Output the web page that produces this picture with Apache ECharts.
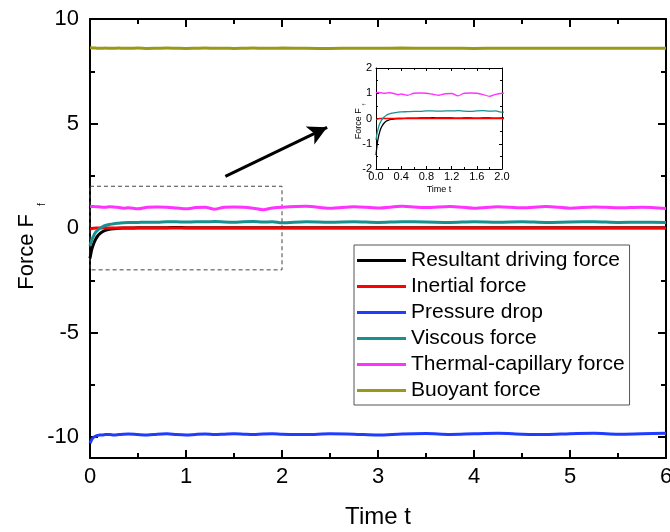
<!DOCTYPE html>
<html><head><meta charset="utf-8">
<script src="https://cdn.jsdelivr.net/npm/echarts@6/dist/echarts.min.js"></script>
<style>html,body{margin:0;padding:0;background:#fff}#c{width:670px;height:532px}</style>
</head><body><div id="c"></div>
<script>
const time = [0, 0.02, 0.04, 0.06, 0.08, 0.1, 0.13, 0.16, 0.2, 0.25, 0.3, 0.35, 0.4, 0.5, 0.6, 0.7, 0.8, 0.9, 1.0, 1.1, 1.2, 1.3, 1.4, 1.5, 1.6, 1.7, 1.8, 1.9, 2.0, 2.25, 2.5, 2.75, 3.0, 3.25, 3.5, 3.75, 4.0, 4.25, 4.5, 4.75, 5.0, 5.25, 5.5, 5.75, 6.0];
const resultant = [-1.45, -1.0, -0.72, -0.52, -0.38, -0.28, -0.18, -0.11, -0.06, -0.03, -0.01, 0, 0, 0.01, 0.01, 0.02, 0.02, 0.03, 0.02, 0.02, 0.02, 0.01, 0.02, 0.02, 0.01, 0.02, 0.02, 0.01, 0.02, 0.01, 0.02, 0.01, 0.02, 0.01, 0.02, 0.01, 0.02, 0.01, 0.02, 0.01, 0.02, 0.01, 0.02, 0.01, 0.02];
const inertial = [-0.04, -0.02, -0.01, 0, 0, 0, 0, 0, 0, 0, 0, 0, 0, 0, 0, 0, 0, 0, 0, 0, 0, 0, 0, 0, 0, 0, 0, 0, 0, 0, 0, 0, 0, 0, 0, 0, 0, 0, 0, 0, 0, 0, 0, 0, 0];
const pressure = [-10.3, -10.1, -10.0, -9.95, -9.92, -9.9, -9.9, -9.88, -9.88, -9.9, -9.88, -9.86, -9.85, -9.88, -9.9, -9.86, -9.84, -9.88, -9.9, -9.87, -9.85, -9.88, -9.86, -9.84, -9.86, -9.88, -9.85, -9.84, -9.86, -9.88, -9.84, -9.86, -9.9, -9.85, -9.83, -9.87, -9.84, -9.82, -9.86, -9.88, -9.84, -9.82, -9.86, -9.84, -9.82];
const viscous = [-0.85, -0.55, -0.35, -0.2, -0.1, -0.02, 0.06, 0.12, 0.17, 0.21, 0.23, 0.25, 0.26, 0.27, 0.28, 0.28, 0.3, 0.3, 0.29, 0.3, 0.3, 0.31, 0.29, 0.28, 0.3, 0.31, 0.29, 0.3, 0.25, 0.3, 0.28, 0.3, 0.27, 0.3, 0.29, 0.27, 0.3, 0.28, 0.3, 0.27, 0.29, 0.3, 0.27, 0.28, 0.27];
const thermal = [1.02, 1.03, 1.03, 1.02, 1.02, 1.01, 1.0, 1.0, 1.02, 1.01, 0.98, 0.95, 0.97, 0.92, 1.0, 1.01, 1.0, 0.96, 0.92, 0.98, 0.99, 0.9, 1.0, 1.01, 1.0, 0.95, 0.88, 0.96, 1.0, 1.04, 0.95, 1.02, 0.96, 1.04, 0.98, 1.03, 0.95, 1.02, 0.97, 1.03, 0.95, 1.01, 0.97, 1.0, 0.94];
const buoyant = [8.62, 8.62, 8.61, 8.61, 8.6, 8.6, 8.6, 8.61, 8.6, 8.6, 8.61, 8.6, 8.6, 8.61, 8.59, 8.6, 8.61, 8.6, 8.59, 8.6, 8.61, 8.6, 8.6, 8.59, 8.6, 8.61, 8.6, 8.6, 8.61, 8.6, 8.59, 8.6, 8.6, 8.61, 8.6, 8.6, 8.59, 8.6, 8.6, 8.6, 8.6, 8.6, 8.6, 8.6, 8.6];
const seriesNames = ['Resultant driving force', 'Inertial force', 'Pressure drop', 'Viscous force', 'Thermal-capillary force', 'Buoyant force'];
const seriesData = [resultant, inertial, pressure, viscous, thermal, buoyant];
const colors = ['#000000', '#ff0000', '#1f3cff', '#199090', '#ff33ff', '#999917'];
const mainYLabels = [-10, -5, 0, 5, 10];
const mainYMinor = [-7.5, -2.5, 2.5, 7.5];
const zoomBox = [[0, 2], [2, -2]];
const arrow = [[1.41, 2.47], [2.47, 4.82]];

const FONT = 'Liberation Sans, Arial, sans-serif';
const pairs = arr => time.map((t, i) => [t, arr[i]]);

const chart = echarts.init(document.getElementById('c'));
const axisLine = {show: true, onZero: false, lineStyle: {color: '#000', width: 2}};
const thinLine = {show: true, onZero: false, lineStyle: {color: '#000', width: 1}};
const series = [];
seriesNames.forEach((n, i) => {
  series.push({
    name: n, type: 'line', xAxisIndex: 0, yAxisIndex: 0, data: pairs(seriesData[i]),
    symbol: 'none', smooth: 0.3, lineStyle: {color: colors[i], width: 3}, itemStyle: {color: colors[i]},
    z: 3 + i, silent: true
  });
});
seriesNames.forEach((n, i) => {
  series.push({
    name: n, type: 'line', xAxisIndex: 2, yAxisIndex: 2, data: pairs(seriesData[i]),
    symbol: 'none', smooth: 0.3, lineStyle: {color: colors[i], width: 1.3}, itemStyle: {color: colors[i]},
    z: 3 + i, silent: true, clip: true
  });
});
series[0].markArea = {
  silent: true,
  itemStyle: {color: 'rgba(0,0,0,0)', borderColor: '#444', borderWidth: 1, borderType: [4, 3]},
  data: [[{coord: zoomBox[0]}, {coord: zoomBox[1]}]]
};
series[0].markLine = {
  silent: true, symbol: ['none', 'arrow'], symbolSize: [15, 19],
  lineStyle: {color: '#000', width: 3, type: 'solid'},
  label: {show: false},
  data: [[{coord: arrow[0]}, {coord: arrow[1]}]]
};

const tick = (len, w, extra) => Object.assign({inside: true, length: len, lineStyle: {width: w, color: '#000'}}, extra || {});
const minor = (len, w) => ({show: true, splitNumber: 2, length: len, lineStyle: {width: w, color: '#000'}});

chart.setOption({
  animation: false,
  textStyle: {fontFamily: FONT},
  grid: [
    {left: 90, top: 19, right: 4, bottom: 74, outerBoundsMode: 'none'},
    {left: 376, top: 68, width: 126, height: 101, outerBoundsMode: 'none'},
    {left: 90, top: 19, right: 4, bottom: 74, outerBoundsMode: 'none'}
  ],
  legend: {
    data: seriesNames, orient: 'vertical', left: 354, top: 245,
    borderColor: '#555', borderWidth: 1, padding: [5, 5, 4, 3],
    itemWidth: 49, itemHeight: 3, itemGap: 5, icon: 'rect',
    textStyle: {fontSize: 21, color: '#000', fontFamily: FONT, lineHeight: 21},
    selectedMode: false
  },
  xAxis: [
    {gridIndex: 0, type: 'value', min: 0, max: 6, interval: 1, position: 'bottom',
     axisLine, splitLine: {show: false}, axisTick: tick(8, 2), minorTick: minor(5, 2),
     axisLabel: {fontSize: 22, color: '#000', margin: 8},
     name: 'Time t', nameLocation: 'middle', nameGap: 47, nameMoveOverlap: false,
     nameTextStyle: {fontSize: 24, color: '#000'}},
    {gridIndex: 0, type: 'value', min: 0, max: 6, interval: 1, position: 'top',
     axisLine, splitLine: {show: false}, axisTick: tick(8, 2), minorTick: minor(5, 2),
     axisLabel: {show: false}},
    {gridIndex: 1, type: 'value', min: 0, max: 2, interval: 0.4, position: 'bottom',
     axisLine: thinLine, splitLine: {show: false}, axisTick: tick(3, 1), minorTick: minor(2, 1),
     axisLabel: {fontSize: 11, color: '#000', margin: 2, formatter: v => v.toFixed(1)},
     name: 'Time t', nameLocation: 'middle', nameGap: 16, nameMoveOverlap: false,
     nameTextStyle: {fontSize: 9, color: '#000'}},
    {gridIndex: 1, type: 'value', min: 0, max: 2, interval: 0.4, position: 'top',
     axisLine: thinLine, splitLine: {show: false}, axisTick: tick(3, 1), minorTick: minor(2, 1),
     axisLabel: {show: false}},
    {gridIndex: 2, type: 'value', min: 0, max: 6, show: false}
  ],
  yAxis: [
    {gridIndex: 0, type: 'value', min: -11, max: 10, position: 'left',
     axisLine, splitLine: {show: false},
     axisTick: tick(8, 2, {customValues: mainYLabels}),
     axisLabel: {fontSize: 22, color: '#000', margin: 11, customValues: mainYLabels},
     name: '{a|Force F}{b|f}', nameLocation: 'middle', nameGap: 50, nameRotate: 90, nameMoveOverlap: false,
     nameTextStyle: {rich: {
       a: {fontSize: 22, color: '#000', fontFamily: FONT, lineHeight: 24, verticalAlign: 'top'},
       b: {fontSize: 10, color: '#000', fontFamily: FONT, lineHeight: 10, verticalAlign: 'top', padding: [21, 16, 0, 8]}}}},
    {gridIndex: 0, type: 'value', min: -11, max: 10, position: 'right',
     axisLine, splitLine: {show: false},
     axisTick: tick(8, 2, {customValues: mainYLabels}),
     axisLabel: {show: false}},
    {gridIndex: 1, type: 'value', min: -2, max: 2, interval: 1, position: 'left',
     axisLine: thinLine, splitLine: {show: false}, axisTick: tick(3, 1), minorTick: minor(2, 1),
     axisLabel: {fontSize: 11, color: '#000', margin: 4},
     name: '{a|Force F}{b|f}', nameLocation: 'middle', nameGap: 12, nameRotate: 90, nameMoveOverlap: false,
     nameTextStyle: {rich: {
       a: {fontSize: 9, color: '#000', fontFamily: FONT, lineHeight: 10, verticalAlign: 'top'},
       b: {fontSize: 5, color: '#000', fontFamily: FONT, lineHeight: 5, verticalAlign: 'top', padding: [8, 6, 0, 3]}}}},
    {gridIndex: 1, type: 'value', min: -2, max: 2, interval: 1, position: 'right',
     axisLine: thinLine, splitLine: {show: false}, axisTick: tick(3, 1), minorTick: minor(2, 1),
     axisLabel: {show: false}},
    {gridIndex: 2, type: 'value', min: -11, max: 10, position: 'left',
     axisLine: {show: false}, splitLine: {show: false},
     axisTick: tick(5, 2, {customValues: mainYMinor}), axisLabel: {show: false}},
    {gridIndex: 2, type: 'value', min: -11, max: 10, position: 'right',
     axisLine: {show: false}, splitLine: {show: false},
     axisTick: tick(5, 2, {customValues: mainYMinor}), axisLabel: {show: false}}
  ],
  series
});
</script></body></html>
